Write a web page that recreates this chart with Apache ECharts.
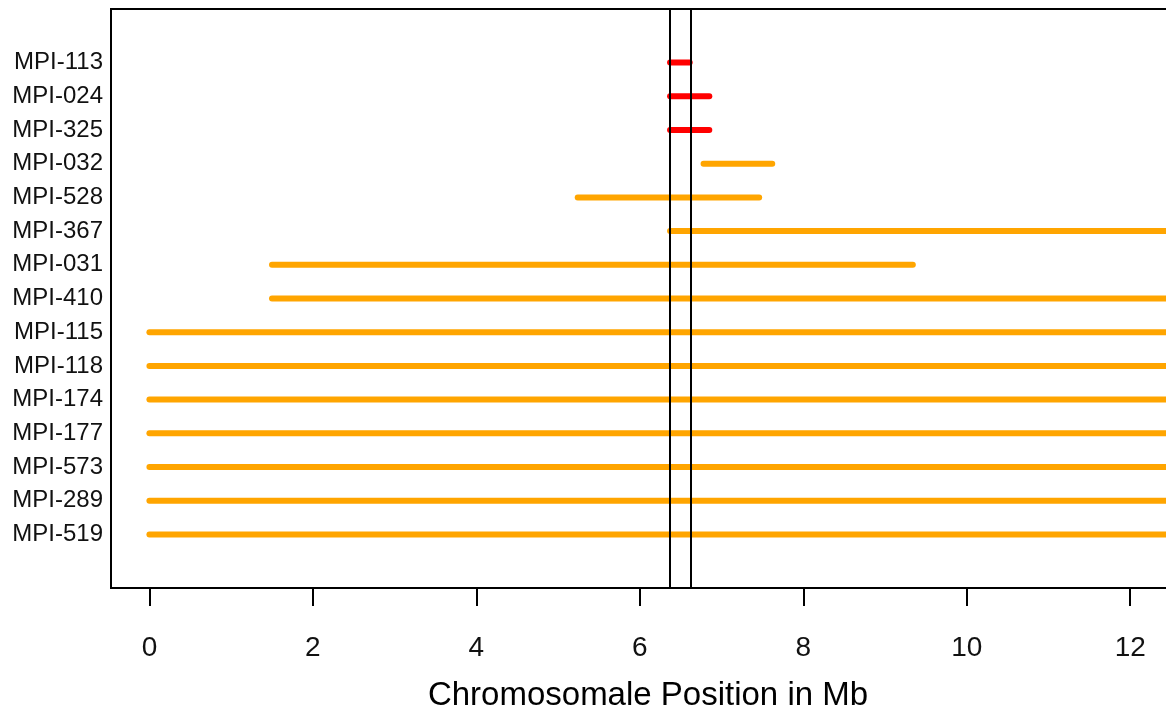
<!DOCTYPE html>
<html>
<head>
<meta charset="utf-8">
<script src="https://cdn.jsdelivr.net/npm/echarts@6/dist/echarts.min.js"></script>
<style>
html,body{margin:0;padding:0;background:#fff;}
#chart{width:1166px;height:713px;}
</style>
</head>
<body>
<div id="chart"></div>
<script>
// Sample names, top to bottom
const names = ['MPI-113','MPI-024','MPI-325','MPI-032','MPI-528','MPI-367','MPI-031','MPI-410','MPI-115','MPI-118','MPI-174','MPI-177','MPI-573','MPI-289','MPI-519'];
// Segment start / end positions (Mb)
const starts = [6.37, 6.37, 6.37, 6.78, 5.24, 6.37, 1.50, 1.50, 0, 0, 0, 0, 0, 0, 0];
const ends   = [6.61, 6.85, 6.85, 7.62, 7.46, 13, 9.34, 13, 13, 13, 13, 13, 13, 13, 13];
// Group of each sample
const groups = ['candidate','candidate','candidate','other','other','other','other','other','other','other','other','other','other','other','other'];
// Boundaries of the candidate interval (Mb)
const bounds = [6.37, 6.62];
// X axis tick labels
const xTicks = [0, 2, 4, 6, 8, 10, 12];

const groupColor = {candidate: '#ff0000', other: '#ffa500'};
const n = names.length;
const rowY = i => n - i; // top row at highest value

const series = names.map((nm, i) => ({
  name: nm,
  type: 'line',
  data: [[starts[i], rowY(i)], [ends[i], rowY(i)]],
  symbol: 'none',
  clip: true,
  silent: true,
  lineStyle: {color: groupColor[groups[i]], width: 6, cap: 'round'},
  z: 2
}));

series.push({
  type: 'line',
  data: [],
  silent: true,
  markLine: {
    symbol: ['none','none'],
    silent: true,
    label: {show: false},
    lineStyle: {color: '#000', width: 2, type: 'solid'},
    data: bounds.map(b => ({xAxis: b}))
  },
  z: 5
});

const chart = echarts.init(document.getElementById('chart'), null, {renderer: 'canvas'});
chart.setOption({
  animation: false,
  backgroundColor: '#fff',
  grid: {
    left: 111, width: 1074, top: 9, height: 579,
    show: true, borderColor: '#000', borderWidth: 2, backgroundColor: 'transparent',
    containLabel: false,
    outerBoundsMode: 'none'
  },
  xAxis: {
    type: 'value',
    min: -0.47, max: 12.67,
    splitLine: {show: false},
    axisLine: {show: false, onZero: false},
    axisTick: {show: true, customValues: xTicks, length: 18, lineStyle: {color: '#000', width: 2}},
    axisLabel: {customValues: xTicks, margin: 46, fontSize: 28, color: '#111', fontFamily: 'Liberation Sans, Arial, sans-serif'},
    name: 'Chromosomale Position in Mb',
    nameLocation: 'middle',
    nameGap: 91,
    nameTextStyle: {fontSize: 33, color: '#000', fontFamily: 'Liberation Sans, Arial, sans-serif'}
  },
  yAxis: {
    type: 'value',
    min: -0.59, max: 16.59,
    splitLine: {show: false},
    axisLine: {show: false, onZero: false},
    axisTick: {show: false},
    axisLabel: {
      customValues: names.map((_, i) => rowY(i)),
      formatter: v => names[n - Math.round(v)] || '',
      margin: 8, fontSize: 24, color: '#111',
      padding: [10, 0, 0, 0],
      fontFamily: 'Liberation Sans, Arial, sans-serif'
    }
  },
  series: series
});
</script>
</body>
</html>
